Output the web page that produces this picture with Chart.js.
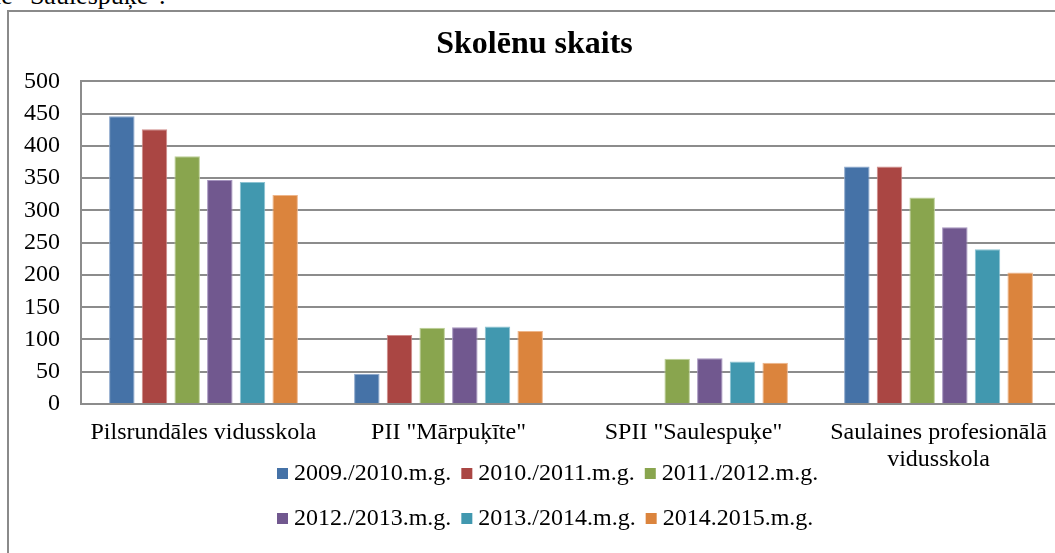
<!DOCTYPE html>
<html>
<head>
<meta charset="utf-8">
<script src="https://cdn.jsdelivr.net/npm/chart.js@4/dist/chart.umd.min.js"></script>
<style>
    html, body { margin: 0; padding: 0; width: 1055px; height: 553px; overflow: hidden; background: #fff; }
    .frame { position: absolute; left: 7px; top: 10px; width: 1100px; height: 600px; border-left: 2px solid #8a8a8a; border-top: 2px solid #8a8a8a; }
    .above { position: absolute; left: -6px; top: -19px; font: 26px "Liberation Serif", "Times New Roman", serif; color: #000; white-space: nowrap; }
    #wrap { position: absolute; left: 8px; top: 11px; width: 1056px; height: 542px; }
</style>
</head>
<body>
<div class="above">ie "Saulespuķe".</div>
<div class="frame"></div>
<div id="wrap"><canvas id="skoleniChart" width="1056" height="542"></canvas></div>
<script>
// Skolēnu skaits pa mācību gadiem
const categories = [
    'Pilsrundāles vidusskola',
    'PII "Mārpuķīte"',
    'SPII "Saulespuķe"',
    ['Saulaines profesionālā', 'vidusskola']
];
const seriesNames = ['2009./2010.m.g.', '2010./2011.m.g.', '2011./2012.m.g.', '2012./2013.m.g.', '2013./2014.m.g.', '2014.2015.m.g.'];
const y2009 = [446, 47, null, 368];
const y2010 = [426, 107, null, 368];
const y2011 = [384, 118, 70, 320];
const y2012 = [347, 119, 71, 274];
const y2013 = [344, 120, 66, 240];
const y2014 = [324, 113, 64, 204];
const yTicks = [0, 50, 100, 150, 200, 250, 300, 350, 400, 450, 500];

const colors = ['#4572A7', '#AA4643', '#89A54E', '#71588F', '#4198AF', '#DB843D'];
const edges = ['#8aa6cc', '#cf8c8a', '#bcd096', '#a593be', '#8cc3d2', '#eeb58a'];
const serif = '"Liberation Serif", "Times New Roman", serif';
const gridColor = '#8c8c8c';

const seriesData = [y2009, y2010, y2011, y2012, y2013, y2014];

// leģenda divās rindās, kā oriģinālā
const rowLegend = {
    id: 'rowLegend',
    afterDraw(chart) {
        const ctx = chart.ctx;
        const rows = [[0, 1, 2], [3, 4, 5]];
        const rowY = [462, 507];
        ctx.save();
        ctx.font = '24px ' + serif;
        ctx.textBaseline = 'middle';
        rows.forEach((row, r) => {
            let x = 269;
            row.forEach(i => {
                const ds = chart.data.datasets[i];
                ctx.fillStyle = ds.backgroundColor;
                ctx.fillRect(x, rowY[r] - 5, 11, 11);
                ctx.fillStyle = '#000';
                ctx.fillText(ds.label, x + 17, rowY[r] + 1);
                x += 17 + ctx.measureText(ds.label).width + 10;
            });
        });
        ctx.restore();
    }
};

const ctx = document.getElementById('skoleniChart').getContext('2d');
new Chart(ctx, {
    type: 'bar',
    data: {
        labels: categories,
        datasets: seriesNames.map((name, i) => ({
            label: name,
            data: seriesData[i],
            backgroundColor: colors[i],
            borderColor: edges[i],
            borderWidth: 1,
            categoryPercentage: 0.8,
            barPercentage: 0.78
        }))
    },
    options: {
        responsive: false,
        animation: false,
        layout: { padding: { top: 0, right: 3, bottom: 79, left: 0 } },
        plugins: {
            legend: { display: false },
            tooltip: { enabled: false },
            title: {
                display: true,
                text: 'Skolēnu skaits',
                color: '#000',
                font: { family: serif, size: 32, weight: 'bold', lineHeight: 1.2 },
                padding: { top: 15, bottom: 17 }
            }
        },
        scales: {
            x: {
                grid: { display: false, drawTicks: false },
                border: { display: true, color: gridColor, width: 2 },
                ticks: {
                    color: '#000',
                    font: { family: serif, size: 24, lineHeight: 1.1 },
                    padding: 16,
                    maxRotation: 0,
                    autoSkip: false
                },
                afterFit(scale) { scale.height = 70; }
            },
            y: {
                min: 0,
                max: 500,
                afterBuildTicks(scale) { scale.ticks = yTicks.map(v => ({ value: v })); },
                grid: { color: gridColor, lineWidth: 2, drawTicks: false },
                border: { display: true, color: gridColor, width: 2 },
                ticks: {
                    color: '#000',
                    font: { family: serif, size: 24 },
                    padding: 21
                },
                afterFit(scale) { scale.width = 73; }
            }
        }
    },
    plugins: [rowLegend]
});
</script>
</body>
</html>
